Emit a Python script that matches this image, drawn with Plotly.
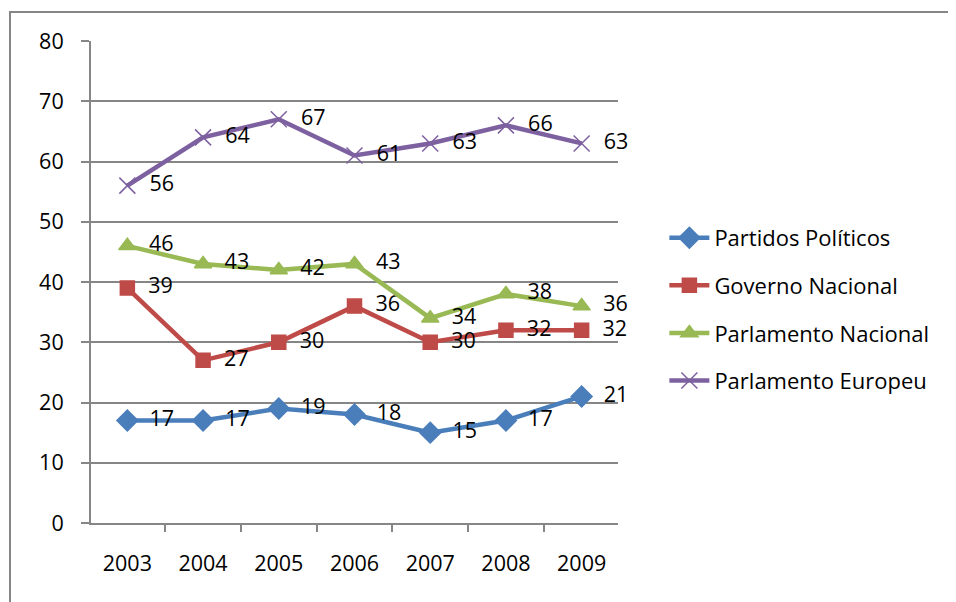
import plotly.graph_objects as go

years = ["2003", "2004", "2005", "2006", "2007", "2008", "2009"]
partidos = [17, 17, 19, 18, 15, 17, 21]
governo = [39, 27, 30, 36, 30, 32, 32]
parl_nac = [46, 43, 42, 43, 34, 38, 36]
parl_eur = [56, 64, 67, 61, 63, 66, 63]

series = [
    ("Partidos Políticos", partidos, "#4A7EBB", "diamond", 16),
    ("Governo Nacional", governo, "#BE4B48", "square", 14),
    ("Parlamento Nacional", parl_nac, "#98B954", "triangle-up", 15),
    ("Parlamento Europeu", parl_eur, "#7D60A0", "x-thin", 16),
]

FONT = "'Open Sans', 'Noto Sans', sans-serif"
fig = go.Figure()
for name, vals, color, sym, size in series:
    fig.add_trace(go.Scatter(
        x=years, y=vals, name=name, mode="lines+markers+text",
        line=dict(color=color, width=4.5),
        marker=dict(symbol=sym, size=size, color=color,
                    line=dict(color=color, width=1.5)),
        text=[f"  {v}" for v in vals], textposition="middle right",
        textfont=dict(family=FONT, size=21.5, color="#000000"),
        legendgroup=name, cliponaxis=False,
    ))

fig.update_layout(
    width=948, height=594,
    margin=dict(l=83, r=338, t=33, b=79, autoexpand=False),
    paper_bgcolor="white", plot_bgcolor="white",
    font=dict(family=FONT, size=21.5, color="#000000"),
    showlegend=True,
    legend=dict(x=1.088, y=0.443, xanchor="left", yanchor="middle",
                font=dict(family=FONT, size=22, color="#000000"),
                tracegroupgap=16, itemwidth=40, bgcolor="rgba(0,0,0,0)"),
    xaxis=dict(type="category", showgrid=False, showline=True,
               linecolor="#868686", linewidth=2, ticks="outside",
               tickson="boundaries", ticklen=7, tickcolor="#868686",
               tickwidth=2, ticklabelstandoff=20, zeroline=False,
               automargin=False),
    yaxis=dict(range=[0, 80], dtick=10, showgrid=True, gridcolor="#868686",
               gridwidth=2, showline=True, linecolor="#868686", linewidth=2,
               ticks="outside", ticklen=8, tickcolor="#868686", tickwidth=2,
               ticklabelstandoff=13, zeroline=False, automargin=False),
    shapes=[dict(type="rect", xref="paper", yref="paper",
                 x0=(2 - 83) / 527, x1=(1000 - 83) / 527,
                 y0=(515 - 650) / 482, y1=(515 - 4) / 482,
                 line=dict(color="#868686", width=2), layer="below")],
)

fig.write_html("out.html")
